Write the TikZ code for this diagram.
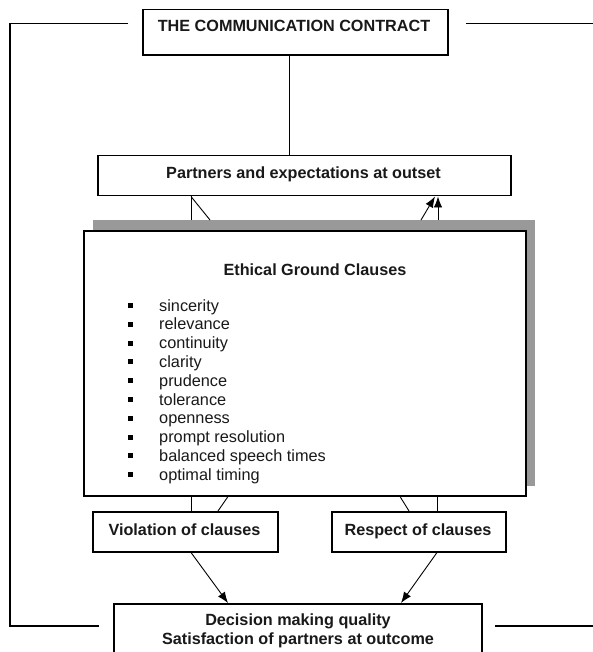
\documentclass[tikz,border=0pt]{standalone}
\usepackage{fontspec}
\setmainfont{Liberation Sans}
\usetikzlibrary{arrows.meta}
\definecolor{shadowgray}{RGB}{153,153,153}
\definecolor{ink}{RGB}{25,25,25}
\begin{document}
\begin{tikzpicture}[x=1pt,y=-1pt,
  box/.style={draw=black,line width=1.5pt,fill=white,inner sep=0pt,anchor=north west},
  conn/.style={draw=black,line width=0.9pt},
  arr/.style={conn,-{Latex[length=11pt,width=8.5pt]}},
  framel/.style={draw=black,line width=1.4pt},
  lbl/.style={font=\fontsize{16.2}{18.5}\selectfont\bfseries,text=ink,inner sep=0pt,align=center},
  onel/.style={lbl,text height=10pt,text depth=0pt},
  itemtext/.style={font=\fontsize{16.3}{19}\selectfont,text=ink,inner sep=0pt,anchor=west,text height=10pt,text depth=0pt},
  bul/.style={fill=black,minimum size=5pt,inner sep=0pt}
]
\useasboundingbox (0,0) rectangle (593,652);
\clip (0,0) rectangle (593,652);

% outer frame lines
\coordinate (ftl) at (128,23.5);
\coordinate (fcl) at (10,23.5);
\coordinate (fbc) at (10,626);
\coordinate (fbl) at (99,626);
\coordinate (ftr1) at (466,23.5);
\coordinate (ftr2) at (593,23.5);
\coordinate (fbr1) at (495,626);
\coordinate (fbr2) at (593,626);
\draw[framel] (ftl) -- (fcl) -- (fbc) -- (fbl);
\draw[framel] (ftr1) -- (ftr2);
\draw[framel] (fbr1) -- (fbr2);

% boxes
\node[box,minimum width=305pt,minimum height=45.5pt] (contract) at (142,9) {};
\node[onel] (contracttext) at (294,26.5) {THE COMMUNICATION CONTRACT};

\node[box,minimum width=413pt,minimum height=40pt] (partners) at (97,155) {};
\node[onel] (partnerstext) at (303.5,174) {Partners and expectations at outset};

\node[fill=shadowgray,inner sep=0pt,anchor=north west,minimum width=442pt,minimum height=266pt] (shadow) at (93,220) {};
\node[box,minimum width=442pt,minimum height=265pt] (main) at (83,230) {};
\node[onel] (ethical) at (315,270) {Ethical Ground Clauses};

\foreach \t [count=\i from 0] in {sincerity,relevance,continuity,clarity,prudence,tolerance,openness,prompt resolution,balanced speech times,optimal timing}{
  \node[bul] (b\i) at (130,{305.5+18.8*\i}) {};
  \node[itemtext] (t\i) at (159,{306+18.8*\i}) {\t};
}

\node[box,minimum width=185pt,minimum height=40pt] (violation) at (92,511) {};
\node[onel] (violationtext) at (184.5,530) {Violation of clauses};

\node[box,minimum width=174pt,minimum height=40pt] (respect) at (331,511) {};
\node[onel] (respecttext) at (418,530) {Respect of clauses};

\node[box,minimum width=368pt,minimum height=70pt] (decision) at (113,603) {};
\node[lbl] (decisiontext) at (298,631) {Decision making quality\\Satisfaction of partners at outcome};

% connectors
\draw[conn] (contract.south -| 289,0) -- (partners.north -| 289,0);
\draw[conn] (partners.south -| 191,0) -- (shadow.north -| 191,0);
\draw[conn] (partners.south -| 191,0) -- (shadow.north -| 210,0);
\draw[arr] (shadow.north -| 438,0) -- (partners.south -| 438,0);
\draw[arr] (shadow.north -| 421,0) -- (partners.south -| 435,0);

\draw[conn] (main.south -| 191,0) -- (violation.north -| 191,0);
\draw[conn] (main.south -| 228,0) -- (violation.north -| 218,0);
\draw[conn] (main.south -| 400,0) -- (respect.north -| 409,0);
\draw[conn] (main.south -| 437,0) -- (respect.north -| 437,0);

\draw[arr] (violation.south -| 191,0) -- (decision.north -| 228,0);
\draw[arr] (respect.south -| 437,0) -- (decision.north -| 401,0);
\end{tikzpicture}
\end{document}
